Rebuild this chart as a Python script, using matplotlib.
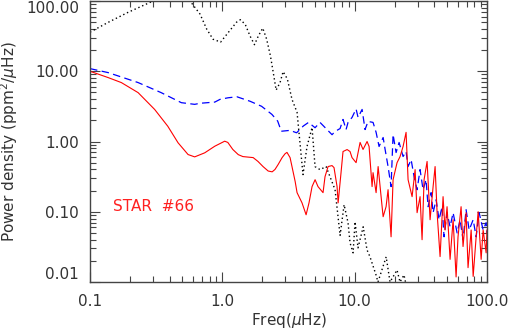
import numpy as np
import matplotlib
matplotlib.use('Agg')
import matplotlib.pyplot as plt
from matplotlib.ticker import LogLocator, FixedLocator, NullFormatter

plt.rcParams['font.family'] = ['DejaVu Sans']
plt.rcParams['mathtext.fontset'] = 'dejavusans'

# black dotted curve (freq in muHz, power density)
freq_k = [0.1, 0.137, 0.194, 0.30, 0.40, 0.57, 0.678, 0.762, 0.85, 0.97, 1.11, 1.28,
          1.37, 1.49, 1.62, 1.75, 1.87, 2.02, 2.16, 2.31, 2.45, 2.55, 2.73, 2.88,
          3.1, 3.36, 3.67, 4.07, 4.365, 4.764, 5.02, 5.47, 6.08,
          7.11, 7.76, 8.32, 8.91, 9.23, 9.73, 10.07, 10.6, 11.6, 12.4, 13.06,
          14.5, 15.0, 17.3, 18.5, 20.9, 22.0, 23.6, 24.5, 26.0]
pow_k = [36, 49.6, 69, 100, 130, 100, 65.2, 39.8, 28.6, 26.0, 35.7, 49.9,
         54.2, 46.4, 31.7, 23.9, 31.7, 41.1, 28.8, 16.5, 8.55, 5.39, 6.9, 9.89,
         7.76, 3.98, 2.6, 0.338, 0.849, 1.58, 0.439, 0.398, 0.439,
         0.206, 0.046, 0.126, 0.0697, 0.036, 0.026, 0.072, 0.0306, 0.061, 0.0286, 0.0228,
         0.0126, 0.01, 0.0228, 0.01, 0.0148, 0.01, 0.0126, 0.009, 0.006]

# red solid curve
freq_r = [0.1, 0.137, 0.1725, 0.231, 0.308, 0.387, 0.463, 0.551, 0.618, 0.736, 0.877,
          1.042, 1.10, 1.2, 1.32, 1.43, 1.56, 1.71, 1.86, 2.03, 2.22, 2.38, 2.50, 2.64,
          2.83, 2.98, 3.08, 3.25, 3.36, 3.55, 3.67, 4.0, 4.295, 4.519, 4.764, 5.023, 5.284,
          5.768, 5.97, 6.295, 6.745, 6.982, 7.362, 7.499, 7.889, 8.166, 8.77, 9.226,
          9.55, 10.25, 10.99, 11.57, 12.41, 12.85, 13.54, 13.77, 14.52, 15.04, 15.84,
          16.41, 17.27, 17.88, 18.84, 19.51, 20.91, 22.03, 23.22, 24.46, 25.33, 27.16,
          28.62, 29.63, 31.21, 32.31, 33.46, 35.26, 37.14, 39.15, 40.53, 41.96, 44.2,
          46.56, 48.2, 49.9, 52.6, 55.45, 58.4, 60.4, 63.7, 65.9, 69.5, 71.9, 75.9,
          78.6, 82.8, 85.7, 90.3, 93.5, 98.5, 100]
pow_r = [10, 8.13, 6.90, 4.96, 2.86, 1.65, 0.958, 0.652, 0.604, 0.690, 0.857,
         1.01, 0.97, 0.77, 0.65, 0.61, 0.60, 0.59, 0.52, 0.44, 0.38, 0.37, 0.40, 0.47,
         0.59, 0.67, 0.70, 0.59, 0.44, 0.27, 0.187, 0.134, 0.0906, 0.134, 0.228, 0.286, 0.228,
         0.187, 0.316, 0.44, 0.454, 0.425, 0.228, 0.134, 0.361, 0.72, 0.768, 0.72,
         0.59, 0.5, 0.97, 0.77, 1.0, 0.85, 0.228, 0.36, 0.187, 0.44, 0.164,
         0.085, 0.118, 0.206, 0.044, 0.286, 0.5, 0.61, 0.85, 1.35, 0.286, 0.164,
         0.398, 0.097, 0.164, 0.04, 0.286, 0.52, 0.077, 0.228, 0.44, 0.097, 0.023,
         0.164, 0.055, 0.118, 0.021, 0.077, 0.0118, 0.044, 0.118, 0.032, 0.097, 0.016, 0.055,
         0.012, 0.044, 0.1, 0.021, 0.055, 0.026, 0.055]

# blue dashed curve
freq_b = [0.1, 0.137, 0.231, 0.345, 0.490, 0.618, 0.678, 0.877, 0.961, 1.104, 1.29,
          1.62, 1.98, 2.37, 2.62, 2.79, 3.25, 3.64, 4.09, 4.48, 5.02, 5.47, 6.18, 6.745,
          7.112, 7.762, 8.166, 8.61, 8.913, 9.55, 10.25, 10.61, 11.38, 11.98, 12.62,
          13.77, 14.52, 15.29, 16.41, 16.99, 17.88, 18.84, 19.51, 20.56, 21.66, 23.22,
          24.46, 25.33, 26.7, 28.12, 29.63, 31.21, 32.87, 34.64, 35.87, 37.81, 39.15,
          41.24, 43.44, 45.76, 47.37, 49.9, 52.6, 55.45, 59.43, 62.6, 65.9, 69.5,
          73.3, 78.6, 82.8, 87.2, 93.5, 98.5, 100]
pow_b = [10.9, 9.57, 6.90, 4.96, 3.57, 3.38, 3.5, 3.64, 3.98, 4.19, 4.33,
         3.74, 3.17, 2.43, 1.95, 1.40, 1.44, 1.33, 1.66, 1.87, 1.57, 1.87, 1.48, 1.25,
         1.39, 1.53, 2.06, 1.48, 1.87, 2.2, 2.9, 2.2, 2.86, 1.48, 1.93,
         1.87, 1.35, 0.849, 1.14, 0.768, 0.44, 0.228, 1.26, 0.697, 0.968, 0.611,
         0.72, 0.44, 0.553, 0.316, 0.206, 0.398, 0.206, 0.286, 0.118, 0.187, 0.097,
         0.148, 0.077, 0.118, 0.044, 0.097, 0.061, 0.097, 0.05, 0.077, 0.04, 0.107,
         0.055, 0.077, 0.044, 0.097, 0.055, 0.07, 0.05]

star_label = 'STAR  #66'

txt = '#333333'
fig = plt.figure(figsize=(5.09, 3.31), dpi=100)
ax = fig.add_axes([90 / 509, 1 - 282 / 331, 397 / 509, 281 / 331])

ax.plot(freq_k, pow_k, color='black', lw=1.0, linestyle=(0, (1, 2)))
ax.plot(freq_b, pow_b, color='#0000ff', lw=0.9, linestyle=(0, (6, 3.5)))
ax.plot(freq_r, pow_r, color='#ff0000', lw=0.8)

ax.set_xscale('log')
ax.set_yscale('log')
ax.set_xlim(0.1, 100)
ax.set_ylim(0.01, 100)

ax.xaxis.set_major_locator(FixedLocator([0.1, 1, 10, 100]))
ax.xaxis.set_minor_locator(LogLocator(base=10, subs=np.arange(2, 10)))
ax.xaxis.set_minor_formatter(NullFormatter())
ax.set_xticklabels(['0.1', '1.0', '10.0', '100.0'])
ax.yaxis.set_major_locator(FixedLocator([0.01, 0.1, 1, 10, 100]))
ax.yaxis.set_minor_locator(LogLocator(base=10, subs=np.arange(2, 10)))
ax.yaxis.set_minor_formatter(NullFormatter())
ax.set_yticklabels(['0.01', '0.10', '1.00', '10.00', '100.00'])

ax.tick_params(which='both', direction='in', top=True, right=True, colors='#444444',
               labelcolor=txt, labelsize=11, width=0.8)
ax.tick_params(which='major', length=7, pad=8)
ax.tick_params(axis='x', which='major', pad=9)
ax.tick_params(which='minor', length=4)
for s in ax.spines.values():
    s.set_color('#444444')
    s.set_linewidth(1.0)

# keep the end labels inside the figure, as in the original
ylabels = ax.get_yticklabels()
ylabels[-1].set_va('top')
ylabels[0].set_va('bottom')

ax.set_xlabel('Freq($\\mu$Hz)', fontsize=11, color=txt, labelpad=1)
ax.set_ylabel('Power density (ppm$^2$/$\\mu$Hz)', fontsize=11, color=txt, labelpad=4)

ax.text(0.149, 0.118, star_label, color='#ff2020', fontsize=11, va='center', ha='left')

fig.savefig('out.png', dpi=100)
